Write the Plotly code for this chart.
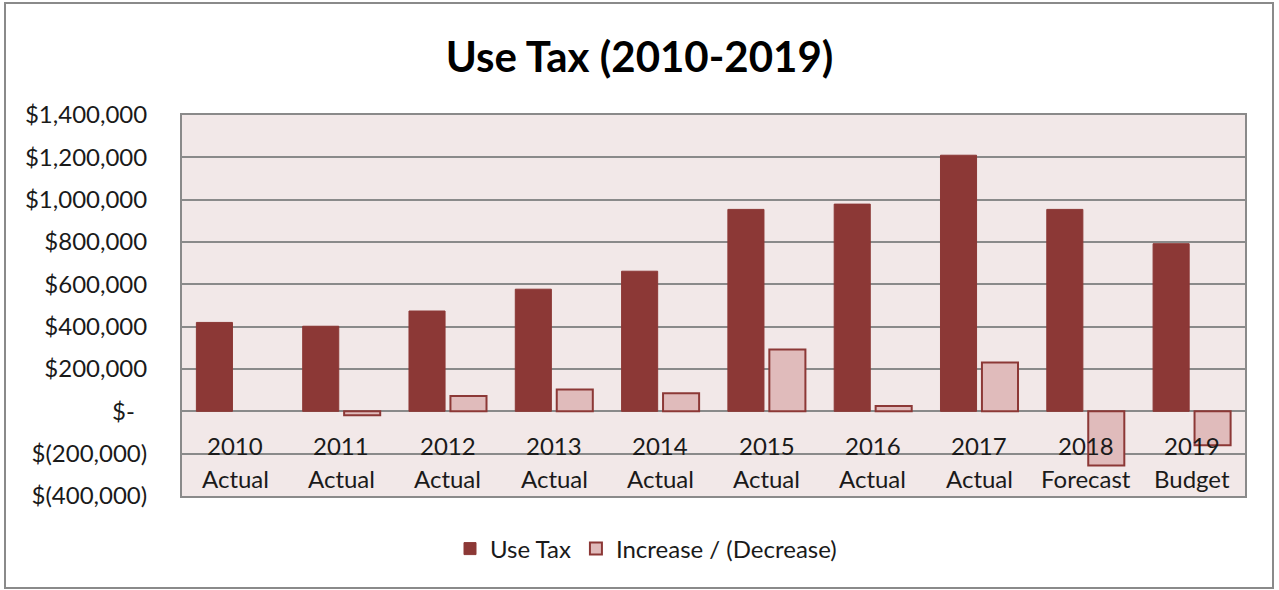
import plotly.graph_objects as go

years = ["2010", "2011", "2012", "2013", "2014", "2015", "2016", "2017", "2018", "2019"]
kinds = ["Actual", "Actual", "Actual", "Actual", "Actual", "Actual", "Actual", "Actual", "Forecast", "Budget"]
use_tax = [420000, 402000, 474000, 577000, 662000, 954000, 979000, 1210000, 954000, 792000]
change = [None, -18000, 72000, 103000, 85000, 292000, 25000, 231000, -256000, -160000]
y_tickvals = [1400000, 1200000, 1000000, 800000, 600000, 400000, 200000, 0, -200000, -400000]
y_ticktext = ["$1,400,000", "$1,200,000", "$1,000,000", "$800,000", "$600,000", "$400,000",
              "$200,000", "$-  ", "$(200,000)", "$(400,000)"]

FONT = "Lato"
dark = "#8C3836"
light = "#E0BBBB"
TXT = "#1a1a1a"

cats = [f"{y} {k}" for y, k in zip(years, kinds)]

fig = go.Figure()
fig.add_trace(go.Bar(x=cats, y=use_tax, name="Use Tax", marker=dict(color=dark, line=dict(color=dark, width=1))))
fig.add_trace(go.Bar(x=cats, y=change, name="Increase / (Decrease)",
                     marker=dict(color=light, line=dict(color=dark, width=2))))

for c, y, k in zip(cats, years, kinds):
    fig.add_annotation(x=c, y=-160000, xref="x", yref="y", text=y, showarrow=False,
                       font=dict(family=FONT, size=24, color=TXT), yanchor="middle")
    fig.add_annotation(x=c, y=-316000, xref="x", yref="y", text=k, showarrow=False,
                       font=dict(family=FONT, size=24, color=TXT), yanchor="middle")

W, H = 1279, 590
L, R, T, B = 182, 34, 115, 94
pw, ph = W - L - R, H - T - B
def px(x):
    return (x - L) / pw
def py(y):
    return (H - B - y) / ph

fig.add_shape(type="rect", xref="paper", yref="paper", x0=px(5), x1=px(1273), y0=py(588), y1=py(3),
              line=dict(color="#8a8a8a", width=2), layer="below")

fig.update_layout(
    width=W, height=H,
    margin=dict(l=L, r=R, t=T, b=B, autoexpand=False),
    paper_bgcolor="white",
    plot_bgcolor="#F2E8E8",
    barmode="group",
    bargap=0.22,
    bargroupgap=0.13,
    title=dict(text="<b>Use Tax (2010-2019)</b>", x=0.5, xref="container", xanchor="center",
               y=1 - 57 / H, yanchor="middle", font=dict(family=FONT, size=42, color="black")),
    font=dict(family=FONT, size=24, color=TXT),
    showlegend=True,
    legend=dict(orientation="h", x=px(646), xanchor="center", y=py(549), yanchor="middle",
                font=dict(family=FONT, size=24, color=TXT), traceorder="normal",
                bgcolor="rgba(0,0,0,0)"),
    xaxis=dict(showticklabels=False, showgrid=False, zeroline=False, showline=True, linecolor="#8a8a8a",
               linewidth=2, mirror=True, ticks=""),
    yaxis=dict(range=[-400000, 1400000], tickvals=y_tickvals, ticktext=y_ticktext, showgrid=True,
               gridcolor="#8a8a8a", gridwidth=2, zeroline=True, zerolinecolor="#8a8a8a", zerolinewidth=2,
               showline=True, linecolor="#8a8a8a", linewidth=2, mirror=True, ticks="",
               ticklabelstandoff=28,
               tickfont=dict(family=FONT, size=24, color=TXT)),
)

fig.write_html("out.html")
